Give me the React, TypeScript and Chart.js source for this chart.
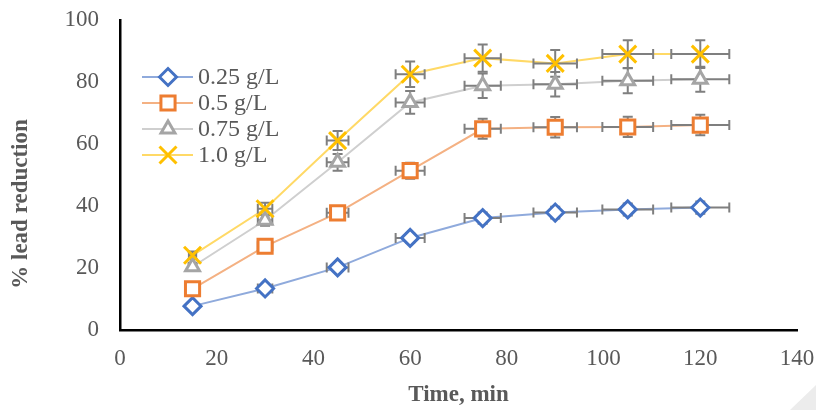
import React, { useEffect, useRef } from 'react';
import { Chart, registerables } from 'chart.js';

Chart.register(...registerables);

// ---- data ----
const times = [15, 30, 45, 60, 75, 90, 105, 120];
const series025 = [7.7, 13.4, 20.2, 29.7, 36.1, 37.9, 38.9, 39.5];
const series05 = [13.3, 27.0, 37.8, 51.4, 64.9, 65.4, 65.5, 66.1];
const series075 = [20.4, 35.4, 54.1, 73.4, 78.8, 79.3, 80.4, 80.9];
const series10 = [24.1, 39.1, 61.1, 82.5, 87.7, 86.0, 89.0, 89.0];
const seriesNames = ['0.25 g/L', '0.5 g/L', '0.75 g/L', '1.0 g/L'];
const errorPercent = 5; // percentage error bars (x and y)
const xTitle = 'Time, min';
const yTitle = '% lead reduction';

// ---- styles ----
const markerColors = ['#4472C4', '#ED7D31', '#A5A5A5', '#FFC000'];
const lineColors = ['#8FAADC', '#F4B183', '#CFCFCF', '#FFD966'];
const markerStyles = ['rectRot', 'rect', 'triangle', 'crossRot'];
const markerRadius = [8.5, 10, 8, 12];
const FONT = "'Liberation Serif', 'Times New Roman', serif";
const TEXT = '#595959';
const ERR = '#7F7F7F';

const allSeries = [series025, series05, series075, series10];

function drawMarker(ctx: CanvasRenderingContext2D, style: string, x: number, y: number, r: number, color: string) {
  ctx.save();
  ctx.strokeStyle = color;
  ctx.fillStyle = '#fff';
  ctx.lineWidth = 3;
  ctx.beginPath();
  if (style === 'rectRot') {
    ctx.moveTo(x - r, y);
    ctx.lineTo(x, y - r);
    ctx.lineTo(x + r, y);
    ctx.lineTo(x, y + r);
    ctx.closePath();
    ctx.fill();
    ctx.stroke();
  } else if (style === 'rect') {
    const h = r * Math.SQRT1_2;
    ctx.rect(x - h, y - h, 2 * h, 2 * h);
    ctx.fill();
    ctx.stroke();
  } else if (style === 'triangle') {
    let a = 0;
    ctx.moveTo(x + Math.sin(a) * r, y - Math.cos(a) * r);
    a += (2 * Math.PI) / 3;
    ctx.lineTo(x + Math.sin(a) * r, y - Math.cos(a) * r);
    a += (2 * Math.PI) / 3;
    ctx.lineTo(x + Math.sin(a) * r, y - Math.cos(a) * r);
    ctx.closePath();
    ctx.fill();
    ctx.stroke();
  } else {
    const h = r * Math.SQRT1_2;
    ctx.moveTo(x - h, y - h);
    ctx.lineTo(x + h, y + h);
    ctx.moveTo(x + h, y - h);
    ctx.lineTo(x - h, y + h);
    ctx.stroke();
  }
  ctx.restore();
}

const cornerPlugin = {
  id: 'corner',
  beforeDraw(chart: any) {
    const ctx = chart.ctx;
    const w = chart.width;
    const h = chart.height;
    ctx.save();
    ctx.fillStyle = '#ECECEC';
    ctx.beginPath();
    ctx.moveTo(w - 26, h);
    ctx.lineTo(w, h - 25);
    ctx.lineTo(w, h);
    ctx.closePath();
    ctx.fill();
    ctx.restore();
  },
};

const errorBarPlugin = {
  id: 'errorBars',
  beforeDraw(chart: any) {
    chart.$errDone = false;
  },
  beforeDatasetDraw(chart: any, args: any) {
    const ds = chart.data.datasets[args.index];
    if (!ds.isMarker || chart.$errDone) return;
    chart.$errDone = true;
    const ctx = chart.ctx;
    const xs = chart.scales.x;
    const ys = chart.scales.y;
    const cap = 5;
    ctx.save();
    ctx.strokeStyle = ERR;
    ctx.lineWidth = 2;
    allSeries.forEach((vals) => {
      vals.forEach((v, i) => {
        const t = times[i];
        const px = xs.getPixelForValue(t);
        const py = ys.getPixelForValue(v);
        const xl = xs.getPixelForValue(t * (1 - errorPercent / 100));
        const xr = xs.getPixelForValue(t * (1 + errorPercent / 100));
        const yt = ys.getPixelForValue(v * (1 + errorPercent / 100));
        const yb = ys.getPixelForValue(v * (1 - errorPercent / 100));
        ctx.beginPath();
        ctx.moveTo(xl, py);
        ctx.lineTo(xr, py);
        ctx.moveTo(xl, py - cap);
        ctx.lineTo(xl, py + cap);
        ctx.moveTo(xr, py - cap);
        ctx.lineTo(xr, py + cap);
        ctx.moveTo(px, yt);
        ctx.lineTo(px, yb);
        ctx.moveTo(px - cap, yt);
        ctx.lineTo(px + cap, yt);
        ctx.moveTo(px - cap, yb);
        ctx.lineTo(px + cap, yb);
        ctx.stroke();
      });
    });
    ctx.restore();
  },
};

const legendAndTitlePlugin = {
  id: 'legendAndTitle',
  afterDraw(chart: any) {
    const ctx = chart.ctx;
    // legend
    const rowY = [77, 103, 129, 155];
    const x0 = 142;
    const x1 = 193;
    const mx = 168;
    ctx.save();
    seriesNames.forEach((name, i) => {
      const y = rowY[i];
      ctx.strokeStyle = lineColors[i];
      ctx.lineWidth = 2;
      ctx.beginPath();
      ctx.moveTo(x0, y);
      ctx.lineTo(x1, y);
      ctx.stroke();
      drawMarker(ctx, markerStyles[i], mx, y, markerRadius[i], markerColors[i]);
      ctx.fillStyle = TEXT;
      ctx.font = `24px ${FONT}`;
      ctx.textAlign = 'left';
      ctx.textBaseline = 'middle';
      ctx.fillText(name, 198, y + 1);
    });
    // y axis title
    ctx.translate(21, 204);
    ctx.rotate(-Math.PI / 2);
    ctx.font = `bold 23px ${FONT}`;
    ctx.fillStyle = TEXT;
    ctx.textAlign = 'center';
    ctx.textBaseline = 'middle';
    ctx.fillText(yTitle, 0, 0);
    ctx.restore();
  },
};

export default function App() {
  const ref = useRef<HTMLCanvasElement | null>(null);

  useEffect(() => {
    if (!ref.current) return;
    const lineSets = allSeries.map((vals, i) => ({
      label: seriesNames[i] + ' line',
      data: vals.map((v, j) => ({ x: times[j], y: v })),
      borderColor: lineColors[i],
      borderWidth: 2,
      pointRadius: 0,
      showLine: true,
      fill: false,
      tension: 0,
      order: 10 + (3 - i),
      isMarker: false,
    }));
    const markerSets = allSeries.map((vals, i) => ({
      label: seriesNames[i],
      data: vals.map((v, j) => ({ x: times[j], y: v })),
      showLine: false,
      pointStyle: markerStyles[i],
      pointRadius: markerRadius[i],
      pointBorderWidth: 3,
      pointBorderColor: markerColors[i],
      pointBackgroundColor: '#FFFFFF',
      borderColor: markerColors[i],
      backgroundColor: '#FFFFFF',
      order: 3 - i,
      isMarker: true,
    }));

    const chart = new Chart(ref.current, {
      type: 'scatter',
      data: { datasets: [...lineSets, ...markerSets] as any },
      options: {
        responsive: false,
        animation: false,
        devicePixelRatio: 1,
        layout: { padding: { top: 20, right: 19, left: 0, bottom: 0 } },
        plugins: {
          legend: { display: false },
          tooltip: { enabled: false },
        },
        scales: {
          x: {
            type: 'linear',
            min: 0,
            max: 140,
            afterFit: (s: any) => {
              s.height = 80;
              s.paddingLeft = 0;
              s.paddingRight = 0;
            },
            ticks: {
              stepSize: 20,
              padding: 15,
              color: TEXT,
              font: { family: FONT, size: 23 },
              maxRotation: 0,
            },
            grid: { display: false, drawTicks: false },
            border: { display: true, color: '#000000', width: 2.5 },
            title: {
              display: true,
              text: xTitle,
              color: TEXT,
              font: { family: FONT, size: 23, weight: 'bold' },
              padding: { top: 0, bottom: 1 },
            },
          },
          y: {
            type: 'linear',
            min: 0,
            max: 100,
            afterFit: (s: any) => {
              s.width = 120;
              s.paddingTop = 0;
              s.paddingBottom = 0;
            },
            ticks: {
              stepSize: 20,
              padding: 21,
              color: TEXT,
              font: { family: FONT, size: 23 },
            },
            grid: { display: false, drawTicks: false },
            border: { display: true, color: '#000000', width: 2.5 },
          },
        },
      } as any,
      plugins: [cornerPlugin, errorBarPlugin, legendAndTitlePlugin],
    });
    return () => chart.destroy();
  }, []);

  return (
    <div style={{ position: 'absolute', left: 0, top: 0, width: 816, height: 410, background: '#fff' }}>
      <canvas ref={ref} width={816} height={410} style={{ width: 816, height: 410, display: 'block' }} />
    </div>
  );
}
